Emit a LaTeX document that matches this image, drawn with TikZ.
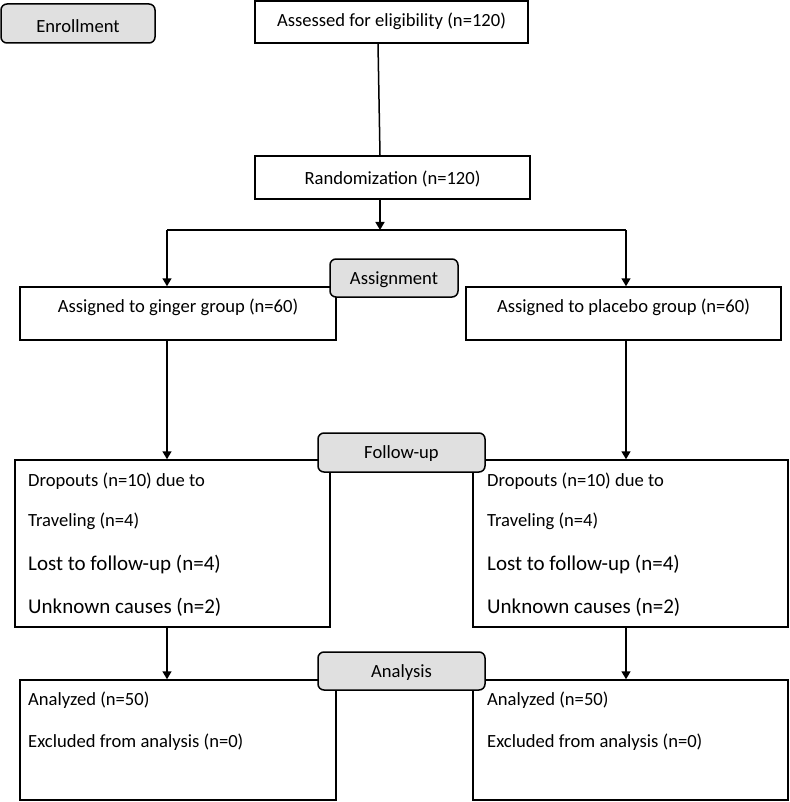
\documentclass[tikz,border=0pt]{standalone}
\usepackage{fontspec}
\setmainfont{Carlito}
\usetikzlibrary{arrows.meta}
\begin{document}
\begin{tikzpicture}[x=1pt,y=-1pt,
  box/.style={draw, line width=1.5pt, inner sep=0pt},
  phase/.style={draw, line width=1.5pt, inner sep=0pt, rounded corners=6pt, fill=black!12},
  txt/.style={inner sep=0pt, font=\fontsize{18.6}{22}\selectfont},
  ltxt/.style={txt, anchor=west},
  btxt/.style={inner sep=0pt, anchor=west, font=\fontsize{21}{24}\selectfont},
  arr/.style={line width=1.5pt, -{Triangle[length=8pt,width=9pt]}},
  ln/.style={line width=1.5pt}]
\useasboundingbox (0,0) rectangle (789,802);
% boxes
\node[box, minimum width=273pt, minimum height=42pt] (assess) at (391.5,22) {};
\node[txt] at (391.5,21) {Assessed for eligibility (n=120)};
\node[box, minimum width=275pt, minimum height=43pt] (rand) at (392.5,177.5) {};
\node[txt] at (392.5,179) {Randomization (n=120)};
\node[box, minimum width=316pt, minimum height=53pt] (ginger) at (178,313.5) {};
\node[txt] at (178,307) {Assigned to ginger group (n=60)};
\node[box, minimum width=315pt, minimum height=53pt] (placebo) at (623.5,313.5) {};
\node[txt] at (623.5,307) {Assigned to placebo group (n=60)};
\node[box, minimum width=315pt, minimum height=167pt] (dropL) at (172.5,543.5) {};
\node[box, minimum width=315pt, minimum height=167pt] (dropR) at (630.5,543.5) {};
\node[box, minimum width=316pt, minimum height=120pt] (anaL) at (178,740) {};
\node[box, minimum width=315pt, minimum height=120pt] (anaR) at (630.5,740) {};
% texts in dropout boxes
\node[ltxt] at (28,481.5) {Dropouts (n=10) due to};
\node[ltxt] at (28,521.5) {Traveling (n=4)};
\node[btxt] at (28,564.5) {Lost to follow-up (n=4)};
\node[btxt] at (28,607.5) {Unknown causes (n=2)};
\node[ltxt] at (487,481.5) {Dropouts (n=10) due to};
\node[ltxt] at (487,521.5) {Traveling (n=4)};
\node[btxt] at (487,564.5) {Lost to follow-up (n=4)};
\node[btxt] at (487,607.5) {Unknown causes (n=2)};
\node[ltxt] at (28,700.5) {Analyzed (n=50)};
\node[ltxt] at (28,742.5) {Excluded from analysis (n=0)};
\node[ltxt] at (487,700.5) {Analyzed (n=50)};
\node[ltxt] at (487,742.5) {Excluded from analysis (n=0)};
% connectors
\coordinate (a1) at (378,0);
\coordinate (a2) at (380,0);
\coordinate (j) at (380,230);
\coordinate (jl) at (167,230);
\coordinate (jr) at (626,230);
\draw[ln] (assess.south -| a1) -- (rand.north -| a2);
\draw[arr] (rand.south -| j) -- (j);
\draw[ln] (jl) -- (jr);
\draw[arr] (jl) -- (ginger.north -| jl);
\draw[arr] (jr) -- (placebo.north -| jr);
\draw[arr] (ginger.south -| jl) -- (dropL.north -| jl);
\draw[arr] (placebo.south -| jr) -- (dropR.north -| jr);
\draw[arr] (dropL.south -| jl) -- (anaL.north -| jl);
\draw[arr] (dropR.south -| jr) -- (anaR.north -| jr);
% phase labels
\node[phase, minimum width=154pt, minimum height=39pt] (enroll) at (78,23.5) {};
\node[txt] at (78,26) {Enrollment};
\node[phase, minimum width=128pt, minimum height=38pt] (assign) at (394,278) {};
\node[txt] at (394,280) {Assignment};
\node[phase, minimum width=167pt, minimum height=39pt] (follow) at (401.5,452.5) {};
\node[txt] at (401.5,454) {Follow-up};
\node[phase, minimum width=167pt, minimum height=38pt] (analysis) at (401.5,671) {};
\node[txt] at (401.5,673) {Analysis};
\end{tikzpicture}
\end{document}
